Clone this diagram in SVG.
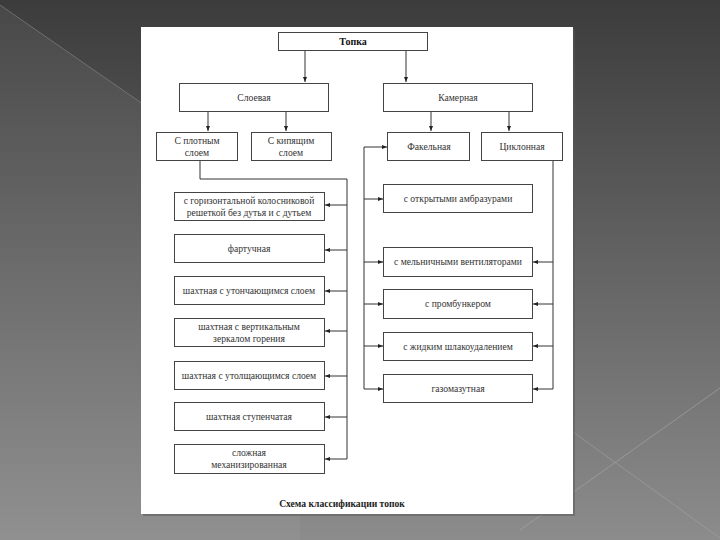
<svg xmlns="http://www.w3.org/2000/svg" width="720" height="540" viewBox="0 0 720 540">
<defs>
<linearGradient id="bg" x1="0" y1="0" x2="0" y2="1">
<stop offset="0" stop-color="#3c3c3c"/>
<stop offset="1" stop-color="#8c8c8c"/>
</linearGradient>
<linearGradient id="bg2" x1="0" y1="0" x2="0" y2="1">
<stop offset="0" stop-color="#505050"/>
<stop offset="1" stop-color="#939393"/>
</linearGradient>
<marker id="ah" viewBox="0 0 10 10" refX="10" refY="5" markerWidth="5" markerHeight="5" orient="auto" markerUnits="userSpaceOnUse">
<path d="M0,1 L10,5 L0,9 Z" fill="#222"/>
</marker>
</defs>
<style>
.box{fill:#fff;stroke:#444;stroke-width:1}
.t{font-family:"Liberation Serif","Times New Roman",serif;font-size:9.6px;fill:#333;text-anchor:middle}
.b{font-weight:bold;font-size:10px;fill:#111}
.c{fill:none;stroke:#333;stroke-width:1}
</style>
<rect x="0" y="0" width="720" height="540" fill="url(#bg)"/>
<polygon points="0,5 300,213 300,540 0,540" fill="url(#bg2)" opacity="0.6"/>
<line x1="0" y1="5" x2="300" y2="213" stroke="#8a8a8a" stroke-width="1" opacity="0.6"/>
<line x1="520" y1="530" x2="720" y2="388" stroke="#aaa" stroke-width="1" opacity="0.6"/>
<line x1="573" y1="432" x2="720" y2="538" stroke="#aaa" stroke-width="1" opacity="0.5"/>
<rect x="143" y="29" width="432" height="487" fill="#555" opacity="0.5"/>
<rect x="141" y="27" width="432" height="487" fill="#fff"/>

<g id="connectors" class="c">
<path d="M305,50 V82" marker-end="url(#ah)"/>
<path d="M406,50 V82" marker-end="url(#ah)"/>
<path d="M208,112 V131" marker-end="url(#ah)"/>
<path d="M286,112 V131" marker-end="url(#ah)"/>
<path d="M431,112 V131" marker-end="url(#ah)"/>
<path d="M509,112 V131" marker-end="url(#ah)"/>
<path d="M200,161 V179 H347 V459"/>
<path d="M347,205 H325" marker-end="url(#ah)"/>
<path d="M347,250 H325" marker-end="url(#ah)"/>
<path d="M347,291 H325" marker-end="url(#ah)"/>
<path d="M347,331 H325" marker-end="url(#ah)"/>
<path d="M347,376 H325" marker-end="url(#ah)"/>
<path d="M347,417 H325" marker-end="url(#ah)"/>
<path d="M347,459 H325" marker-end="url(#ah)"/>
<path d="M364,389 V147 H387" marker-end="url(#ah)"/>
<path d="M364,199 H383" marker-end="url(#ah)"/>
<path d="M364,262 H383" marker-end="url(#ah)"/>
<path d="M364,304 H383" marker-end="url(#ah)"/>
<path d="M364,346 H383" marker-end="url(#ah)"/>
<path d="M364,389 H383" marker-end="url(#ah)"/>
<path d="M553,161 V389 H533" marker-end="url(#ah)"/>
<path d="M553,262 H533" marker-end="url(#ah)"/>
<path d="M553,304 H533" marker-end="url(#ah)"/>
<path d="M553,346 H533" marker-end="url(#ah)"/>
</g>

<g id="topka"><rect class="box" x="278.5" y="32.5" width="149" height="18"/><text class="t b" x="353" y="45">Топка</text></g>
<g id="sloevaya"><rect class="box" x="179.5" y="83.5" width="149" height="28"/><text class="t" x="254" y="101">Слоевая</text></g>
<g id="kamernaya"><rect class="box" x="383.5" y="83.5" width="149" height="28"/><text class="t" x="458" y="101">Камерная</text></g>
<g id="plotnym"><rect class="box" x="156.5" y="132.5" width="81" height="28"/><text class="t" x="197" y="144">С плотным</text><text class="t" x="197" y="156">слоем</text></g>
<g id="kipyaschim"><rect class="box" x="251.5" y="132.5" width="80" height="28"/><text class="t" x="291" y="144">С кипящим</text><text class="t" x="291" y="156">слоем</text></g>
<g id="fakelnaya"><rect class="box" x="387.5" y="132.5" width="82" height="28"/><text class="t" x="429" y="150">Факельная</text></g>
<g id="ciklonnaya"><rect class="box" x="481.5" y="132.5" width="81" height="28"/><text class="t" x="522" y="150">Циклонная</text></g>

<g id="l1"><rect class="box" x="174.5" y="192.5" width="150" height="28"/><text class="t" x="249" y="204">с горизонтальной колосниковой</text><text class="t" x="249" y="216">решеткой без дутья и с дутьем</text></g>
<g id="l2"><rect class="box" x="174.5" y="234.5" width="150" height="28"/><text class="t" x="249" y="252">фартучная</text></g>
<g id="l3"><rect class="box" x="174.5" y="276.5" width="150" height="28"/><text class="t" x="249" y="294">шахтная с утончающимся слоем</text></g>
<g id="l4"><rect class="box" x="174.5" y="318.5" width="150" height="28"/><text class="t" x="249" y="330">шахтная с вертикальным</text><text class="t" x="249" y="342">зеркалом горения</text></g>
<g id="l5"><rect class="box" x="174.5" y="361.5" width="150" height="28"/><text class="t" x="249" y="379">шахтная с утолщающимся слоем</text></g>
<g id="l6"><rect class="box" x="174.5" y="402.5" width="150" height="28"/><text class="t" x="249" y="420">шахтная ступенчатая</text></g>
<g id="l7"><rect class="box" x="174.5" y="444.5" width="150" height="29"/><text class="t" x="249" y="456">сложная</text><text class="t" x="249" y="468">механизированная</text></g>

<g id="r1"><rect class="box" x="383.5" y="184.5" width="149" height="28"/><text class="t" x="458" y="202">с открытыми амбразурами</text></g>
<g id="r2"><rect class="box" x="383.5" y="247.5" width="149" height="29"/><text class="t" x="458" y="265">с мельничными вентиляторами</text></g>
<g id="r3"><rect class="box" x="383.5" y="289.5" width="149" height="29"/><text class="t" x="458" y="307">с промбункером</text></g>
<g id="r4"><rect class="box" x="383.5" y="332.5" width="149" height="28"/><text class="t" x="458" y="350">с жидким шлакоудалением</text></g>
<g id="r5"><rect class="box" x="383.5" y="374.5" width="149" height="28"/><text class="t" x="458" y="392">газомазутная</text></g>

<text class="t" x="342" y="507" style="font-weight:bold;fill:#222">Схема классификации топок</text>
</svg>
